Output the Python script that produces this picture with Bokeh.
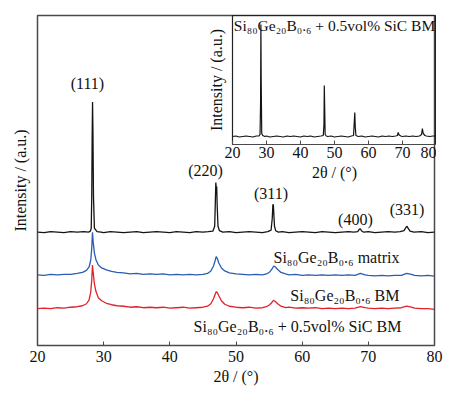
from bokeh.plotting import figure
from bokeh.models import Column, Range1d, FixedTicker, ColumnDataSource
from bokeh.embed import file_html
from bokeh.resources import INLINE
from bokeh.core.properties import value

FONT = "Liberation Serif"

# ---------------- data (2theta in degrees, intensity in arbitrary units) ----------------
two_theta_ticks = [20, 30, 40, 50, 60, 70, 80]

# main plot, top (black) pattern
sintered_pts = [(20,114),(21,113.5),(22,114.5),(23,114),(24,113.5),(25,114.5),(26,114),(27,114.5),
    (27.7,114),(28.0,115),(28.12,118),(28.2,150),(28.26,210),(28.32,245),(28.38,215),(28.46,150),
    (28.6,118),(29.0,114.5),(29.6,114),(30,113.5),(31,114.5),(32,114),(33,113.5),(34,114),(35,114.5),
    (36,113.5),(37,114),(38,114.5),(39,114),(40,113.5),(41,114.5),(42,114),(43,113.5),(44,114.5),
    (45,114),(45.8,114.5),(46.5,115),(46.78,120),(46.88,145),(46.95,164),(47.02,158),(47.08,160),
    (47.16,140),(47.28,120),(47.5,115.5),(48,114),(49,114.5),(50,113.5),(51,114),(52,114.5),(53,114),
    (54,113.5),(54.8,114.5),(55.3,116),(55.48,128),(55.58,142),(55.65,141),(55.72,132),(55.82,120),
    (56.0,115.5),(56.4,114),(57,114.5),(58,113.5),(59,114),(60,114.5),(61,114),(62,113.5),(63,114.5),
    (64,114),(65,113.5),(66,114),(67,114.5),(67.8,114),(68.4,114.5),(68.65,117),(68.8,117.5),
    (68.95,115.5),(69.3,114),(70,114.5),(71,113.5),(72,114),(73,114.5),(74,114),(74.8,114.5),
    (75.4,115.5),(75.7,119),(75.85,120),(76.0,118),(76.3,115),(76.9,114),(78,114.5),(79,113.5),(80,114)]

# main plot, middle (blue) pattern: matrix
matrix_pts = [(20,71),(21,70.5),(22,71.5),(23,71),(24,71.5),(25,71.5),(26,72.5),(26.8,73.5),(27.4,75.5),
    (27.8,79),(28.05,86),(28.2,98),(28.31,114),(28.42,104),(28.6,93),(28.85,86),(29.2,81),(29.7,78),
    (30.4,76),(31.2,74.5),(32,73.5),(33,73),(34,72),(35,72.5),(36,71.5),(37,72),(38,71.5),(39,72),
    (40,71),(41,71.5),(42,71),(43,71.5),(44,71),(45,71.5),(45.7,72.5),(46.2,75),(46.6,80),(46.85,85.5),
    (47.0,89.5),(47.15,88),(47.4,83),(47.8,78),(48.3,75),(49,73),(50,72),(51,71.5),(52,71),(53,71.5),
    (54,71),(54.6,72),(55.1,74),(55.45,77),(55.7,80),(55.95,79),(56.3,76.5),(56.8,73.5),(57.5,72),
    (58,71),(59,71.5),(60,70.5),(61,71),(62,70.5),(63,71),(64,70.5),(65,71),(66,70.5),(67,71),(68,70.5),
    (68.8,72.5),(69.5,71),(70,70.5),(71,70),(72,70.5),(73,70),(74,70.5),(75,70.5),(75.8,72.5),
    (76.5,71.5),(77,70.5),(78,70),(79,70.5),(80,69.7)]

# main plot, bottom (red) pattern: BM
bm_pts = [(20,37),(21,37.5),(22,37),(23,38),(24,37.5),(25,38.5),(26,39),(26.8,40),(27.4,42),(27.8,46),
    (28.05,54),(28.2,66),(28.31,81),(28.42,73),(28.6,62),(28.85,54),(29.2,48),(29.7,45),(30.4,42.5),
    (31.2,41),(32,40),(33,39.5),(34,38.5),(35,39),(36,38),(37,38.5),(38,38),(39,38.5),(40,37.5),(41,38),
    (42,38.5),(43,37.5),(44,38),(45,38.5),(45.7,39.5),(46.2,42),(46.6,47),(46.85,51.5),(47.0,54),
    (47.15,53.5),(47.4,50),(47.8,45),(48.3,41.5),(49,39.5),(50,38.5),(51,38),(52,38.5),(53,37.5),(54,38),
    (54.6,39),(55.1,41),(55.45,43.5),(55.65,45.5),(55.9,44.5),(56.3,42),(56.8,39.5),(57.5,38),(58,38.5),
    (59,37.5),(60,38),(61,37.5),(62,38),(63,37),(64,37.5),(65,37),(66,37.5),(67,37),(68,37.5),(68.8,39),
    (69.5,38),(70,37.5),(71,37),(72,37.5),(73,37),(74,37.5),(75,38),(75.8,39.5),(76.5,38.5),(77,37.5),
    (78,37),(79,37),(80,36.3)]

# inset pattern: Si80Ge20B0.6 + 0.5vol% SiC BM
inset_pts = [(20,8),(21,8.5),(22,7.5),(23,8),(24,8.5),(25,8),(26,7.5),(27,8.5),(27.8,8.5),(28.1,10),
    (28.25,40),(28.35,120),(28.45,60),(28.6,11),(28.9,9),(29.5,8),(30,8.5),(31,7.5),(32,8),(33,8.5),
    (34,8),(35,7.5),(36,8.5),(37,8),(38,8.5),(39,8),(40,7.5),(41,8.5),(42,8),(43,8.5),(44,7.5),(45,8),
    (46,8.5),(46.7,9),(46.9,20),(47.0,59),(47.1,40),(47.25,10),(47.6,8.5),(48,8),(49,8.5),(50,7.5),
    (51,8),(52,8.5),(53,8),(54,7.5),(55,8.5),(55.6,9),(55.85,25),(55.97,32),(56.1,18),(56.3,9),(57,8),
    (58,8.5),(59,7.5),(60,8),(61,8.5),(62,8),(63,7.5),(64,8.5),(65,8),(66,8.5),(67,8),(68,8.5),(68.5,9),
    (68.75,12),(69.0,9.5),(69.5,8.5),(70,8),(71,8.5),(72,8),(73,8.5),(74,8),(75,8.5),(75.6,10),
    (75.85,16),(76.1,11),(76.6,9),(77,8.5),(78,8),(79,8.5),(80,8.5)]

peak_labels = ["(111)", "(220)", "(311)", "(400)", "(331)"]
peak_label_x = [27.55, 45.4, 55.3, 68.05, 75.85]
peak_label_y = [264, 176, 153, 127, 137]

sample_labels = ["Si₈₀Ge₂₀B₀.₆  matrix", "Si₈₀Ge₂₀B₀.₆  BM", "Si₈₀Ge₂₀B₀.₆ + 0.5vol% SiC BM"]
sample_label_x = [75.3, 75.3, 75.0]
sample_label_y = [89, 50, 19]

inset_title = "Si₈₀Ge₂₀B₀.₆ + 0.5vol% SiC BM"

BLACK = "#141414"
BLUE = "#2a5db0"
RED = "#e3202b"
FRAME = "#4a4a4a"


def split(pts):
    return [a for a, _ in pts], [b for _, b in pts]


def style_axes(fig, xlabel, ylabel, tick_std, xlab_std, ylab_std):
    xa = fig.xaxis[0]
    ya = fig.yaxis[0]
    xa.ticker = FixedTicker(ticks=two_theta_ticks)
    xa.major_tick_in = 4
    xa.major_tick_out = 0
    xa.minor_tick_line_color = None
    xa.axis_line_color = FRAME
    xa.major_tick_line_color = FRAME
    xa.major_label_text_font = FONT
    xa.major_label_text_font_size = "16px"
    xa.major_label_text_color = "#111111"
    xa.major_label_standoff = tick_std
    xa.axis_label = xlabel
    xa.axis_label_text_font = FONT
    xa.axis_label_text_font_size = "16px"
    xa.axis_label_text_font_style = "normal"
    xa.axis_label_text_color = "#111111"
    xa.axis_label_standoff = xlab_std

    ya.ticker = FixedTicker(ticks=[])
    ya.major_tick_in = 0
    ya.major_tick_out = 0
    ya.minor_tick_line_color = None
    ya.axis_line_color = None
    ya.major_label_standoff = 0
    ya.axis_label = ylabel
    ya.axis_label_text_font = FONT
    ya.axis_label_text_font_size = "16px"
    ya.axis_label_text_font_style = "normal"
    ya.axis_label_text_color = "#111111"
    ya.axis_label_standoff = ylab_std

    fig.grid.visible = False
    fig.outline_line_color = FRAME
    fig.outline_line_width = 1.5
    fig.outline_line_alpha = 1.0


# ---------------- main figure ----------------
p = figure(width=452, height=387, x_range=Range1d(20, 80), y_range=Range1d(0, 332),
           output_backend="svg", toolbar_location=None,
           min_border_left=37, min_border_right=18, min_border_top=15, min_border_bottom=40)
style_axes(p, "2θ / (°)", "Intensity / (a.u.)", 5, 3, 9)

for pts, col in [(sintered_pts, BLACK), (matrix_pts, BLUE), (bm_pts, RED)]:
    xs, ys = split(pts)
    p.line(xs, ys, line_color=col, line_width=1.3)

peak_src = ColumnDataSource(dict(x=peak_label_x, y=peak_label_y, t=peak_labels))
p.text(x="x", y="y", text="t", source=peak_src, text_font=value(FONT), text_font_size=value("16px"),
       text_align="center", text_baseline="middle", text_color="#111111")

sample_src = ColumnDataSource(dict(x=sample_label_x, y=sample_label_y, t=sample_labels))
p.text(x="x", y="y", text="t", source=sample_src, text_font=value(FONT), text_font_size=value("16px"),
       text_align="right", text_baseline="middle", text_color="#111111")

# ---------------- inset figure ----------------
ins = figure(frame_width=204, frame_height=129, x_range=Range1d(20, 80), y_range=Range1d(0, 129),
             output_backend="svg", toolbar_location=None,
             min_border_left=35, min_border_right=2, min_border_top=15, min_border_bottom=40)
style_axes(ins, "2θ / (°)", "Intensity / (a.u.)", 2, 3, 8)
ins.outline_line_color = "#222222"
ins.outline_line_width = 1.2
ins.background_fill_alpha = 0
ins.border_fill_alpha = 0
ins.styles = {"position": "absolute", "left": "195px", "top": "0px"}

ix, iy = split(inset_pts)
ins.line(ix, iy, line_color=BLACK, line_width=1.2)
ins.text(x=[50], y=[119], text=[inset_title], text_font=value(FONT), text_font_size=value("15.5px"),
         text_align="center", text_baseline="middle", text_color="#111111")

layout = Column(children=[p, ins], styles={"position": "relative"})

open("out.html", "w").write(file_html(layout, INLINE))
